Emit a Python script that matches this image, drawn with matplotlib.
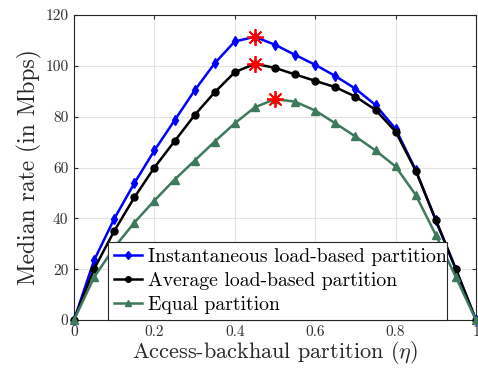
import numpy as np
import matplotlib
matplotlib.use("Agg")
import matplotlib.pyplot as plt
from matplotlib.ticker import FuncFormatter

plt.rcParams['font.family'] = 'serif'
plt.rcParams['font.serif'] = ['cmr10']
plt.rcParams['mathtext.fontset'] = 'cm'
plt.rcParams['axes.formatter.use_mathtext'] = True

# partition fraction eta
eta = [0, 0.05, 0.1, 0.15, 0.2, 0.25, 0.3, 0.35, 0.4, 0.45, 0.5,
       0.55, 0.6, 0.65, 0.7, 0.75, 0.8, 0.85, 0.9, 0.95, 1.0]

# median rate (Mbps)
inst_load = [0, 23.5, 39.8, 53.8, 66.7, 78.5, 90.3, 101.0, 109.6, 111.4, 108.3,
             104.3, 100.4, 96.0, 91.0, 84.6, 75.2, 59.0, 39.2, 19.8, 0]
avg_load = [0, 20.1, 35.0, 48.2, 60.0, 70.3, 80.6, 89.6, 97.5, 100.8, 99.2,
            96.6, 94.1, 91.6, 87.9, 82.7, 74.1, 58.8, 39.4, 20.1, 0]
equal = [0, 16.8, 28.5, 38.3, 47.0, 55.2, 62.7, 70.2, 77.4, 83.7, 86.9,
         85.9, 82.4, 77.4, 72.2, 66.7, 60.4, 49.2, 33.5, 16.8, 0]

labels = ['Instantaneous load-based partition',
          'Average load-based partition',
          'Equal partition']
colors = ['#0000ff', '#000000', '#3d7a5c']
markers = ['d', 'o', '^']
sizes = [5.5, 5, 5.5]

fig = plt.figure(figsize=(4.78, 3.70), dpi=100)
ax = fig.add_axes([74 / 478, 50 / 370, 402 / 478, 305 / 370])

series = [inst_load, avg_load, equal]
for y, lab, c, m, ms in zip(series, labels, colors, markers, sizes):
    ax.plot(eta, y, color=c, marker=m, markersize=ms, linewidth=1.8,
            label=lab, clip_on=False, zorder=3)

# mark the peak of each curve
for y in series:
    i = int(np.argmax(y))
    ax.plot(eta[i], y[i], linestyle='none', marker=(8, 2, 0), markersize=12,
            markeredgewidth=1.3, color='red', zorder=4)

ax.set_xlim(0, 1)
ax.set_ylim(0, 120)
ax.set_xticks(np.arange(0, 1.01, 0.2))
ax.set_yticks(np.arange(0, 121, 20))
ax.xaxis.set_major_formatter(FuncFormatter(lambda v, p: '%g' % round(v, 2)))
ax.yaxis.set_major_formatter(FuncFormatter(lambda v, p: '%g' % v))
ax.tick_params(direction='in', length=3, labelsize=11, colors='#303030',
               top=True, right=True, pad=4)
ax.grid(True, color='#e3e3e3', linewidth=0.8)
ax.set_axisbelow(True)
for s in ax.spines.values():
    s.set_color('#262626')
    s.set_linewidth(0.8)

ax.set_xlabel(r'Access-backhaul partition $(\eta)$', fontsize=16,
              color='#262626', labelpad=0)
ax.set_ylabel('Median rate (in Mbps)', fontsize=17, color='#262626',
              labelpad=2)

leg = ax.legend(loc='lower left', bbox_to_anchor=(0.0846, 0.0, 0.843, 0.25),
                mode='expand', borderaxespad=0, fontsize=14.2, fancybox=False,
                framealpha=1, edgecolor='#262626', handlelength=1.42,
                handletextpad=0.3, borderpad=0.3, labelspacing=0.3,
                markerscale=0.8)
leg.get_frame().set_linewidth(0.8)

fig.savefig('out.png', dpi=100)
